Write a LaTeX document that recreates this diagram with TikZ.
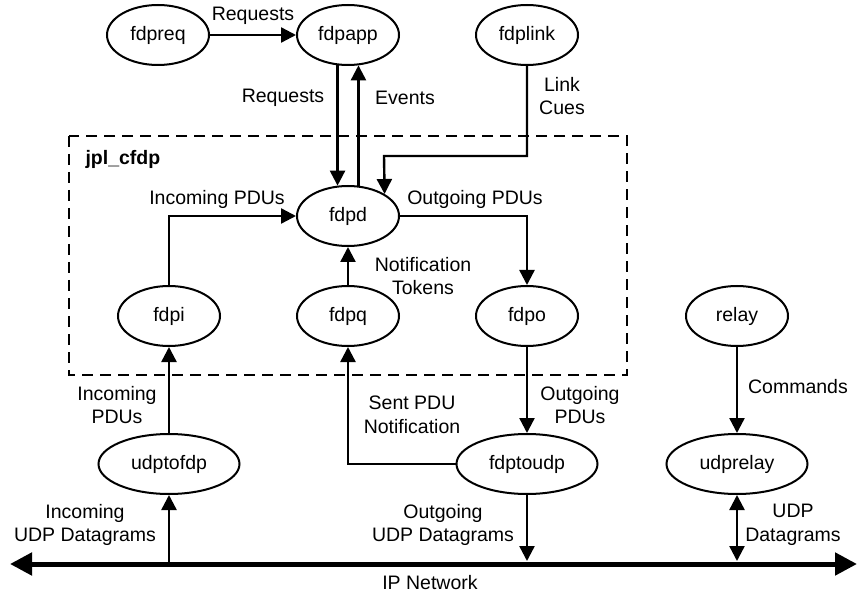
\documentclass[tikz,border=0pt]{standalone}
\usepackage{fontspec}
\setmainfont{Liberation Sans}
\usetikzlibrary{shapes.geometric,arrows.meta}

\begin{document}
\begin{tikzpicture}[x=1pt,y=-1pt,font=\fontsize{19.5}{23.5}\selectfont,
    proc/.style={ellipse,draw,line width=2pt,minimum width=102pt,minimum height=60pt,inner sep=0pt},
    wideproc/.style={proc,minimum width=141pt},
    flow/.style={line width=2.4pt,-{Triangle[length=15pt,width=15pt]}},
    lbl/.style={align=center,inner sep=0pt}]
            \useasboundingbox (0,0) rectangle (860,596);
            \draw[line width=2.5pt,dash pattern=on 11pt off 7pt] (69,136) rectangle (627,375);
            \node[anchor=west,font=\fontsize{19.5}{23.5}\selectfont\bfseries] (cfdplbl) at (82,159) {jpl\_cfdp};
            \node[proc] (fdpreq) at (158,35) {fdpreq}; \node[proc] (fdpapp) at (348,35) {fdpapp}; \node[proc] (fdplink) at (527,35) {fdplink};
            \node[proc] (fdpd) at (348,216) {fdpd};
            \node[proc] (fdpi) at (169,316) {fdpi}; \node[proc] (fdpq) at (348,316) {fdpq}; \node[proc] (fdpo) at (527,316) {fdpo}; \node[proc] (relay) at (737,316) {relay};
            \node[wideproc] (udptofdp) at (169,464) {udptofdp}; \node[wideproc] (fdptoudp) at (527,464) {fdptoudp}; \node[wideproc] (udprelay) at (737,464) {udprelay};
            \coordinate (cuebend) at (384,156);
            \coordinate (ipwest) at (10,564); \coordinate (ipeast) at (857,564); \coordinate (iptop) at (0,561);
            \draw[flow] (fdpreq) -- (fdpapp);
            \draw[flow] (fdpapp.-109) -- (fdpd.109); \draw[flow] (fdpd.71) -- (fdpapp.-71);
            \draw[flow] (fdplink.south) |- (cuebend) -- (fdpd.31);
            \draw[flow] (fdpi.north) |- (fdpd.west); \draw[flow] (fdpd.east) -| (fdpo.north);
            \draw[flow] (fdpq) -- (fdpd);
            \draw[flow] (udptofdp) -- (fdpi); \draw[flow] (fdpo) -- (fdptoudp);
            \draw[flow] (fdptoudp.west) -| (fdpq.south);
            \draw[flow] (relay) -- (udprelay);
            \draw[line width=5pt,{Triangle[length=22pt,width=22pt]}-{Triangle[length=22pt,width=22pt]}] (ipwest) -- (ipeast);
            \draw[flow] (udptofdp.south |- ipwest) -- (udptofdp.south);
            \draw[flow] (fdptoudp.south) -- (fdptoudp.south |- iptop);
            \draw[flow,{Triangle[length=15pt,width=15pt]}-{Triangle[length=15pt,width=15pt]}] (udprelay.south) -- (udprelay.south |- iptop);
            \node[lbl] (reqtop) at (253,16) {Requests};
            \node[lbl] (reqmid) at (283,98) {Requests}; \node[lbl] (events) at (405,98) {Events};
            \node[lbl] (cues) at (562,96) {Link\\Cues};
            \node[lbl] (inpdu) at (217,199) {Incoming PDUs}; \node[lbl] (outpdu) at (475,199) {Outgoing PDUs};
            \node[lbl] (tokens) at (423,276) {Notification\\Tokens};
            \node[lbl] (inpdulow) at (117,405) {Incoming\\PDUs}; \node[lbl] (sentpdu) at (412,415) {Sent PDU\\Notification};
            \node[lbl] (outpdulow) at (580,405) {Outgoing\\PDUs}; \node[lbl] (commands) at (798,387) {Commands};
            \node[lbl] (inudp) at (85,525) {Incoming\\UDP Datagrams}; \node[lbl] (outudp) at (443,525) {Outgoing\\UDP Datagrams};
            \node[lbl] (relayudp) at (793,525) {UDP\\Datagrams};
            \node[lbl] (ipnet) at (430,583) {IP Network};
        \end{tikzpicture}
\end{document}
